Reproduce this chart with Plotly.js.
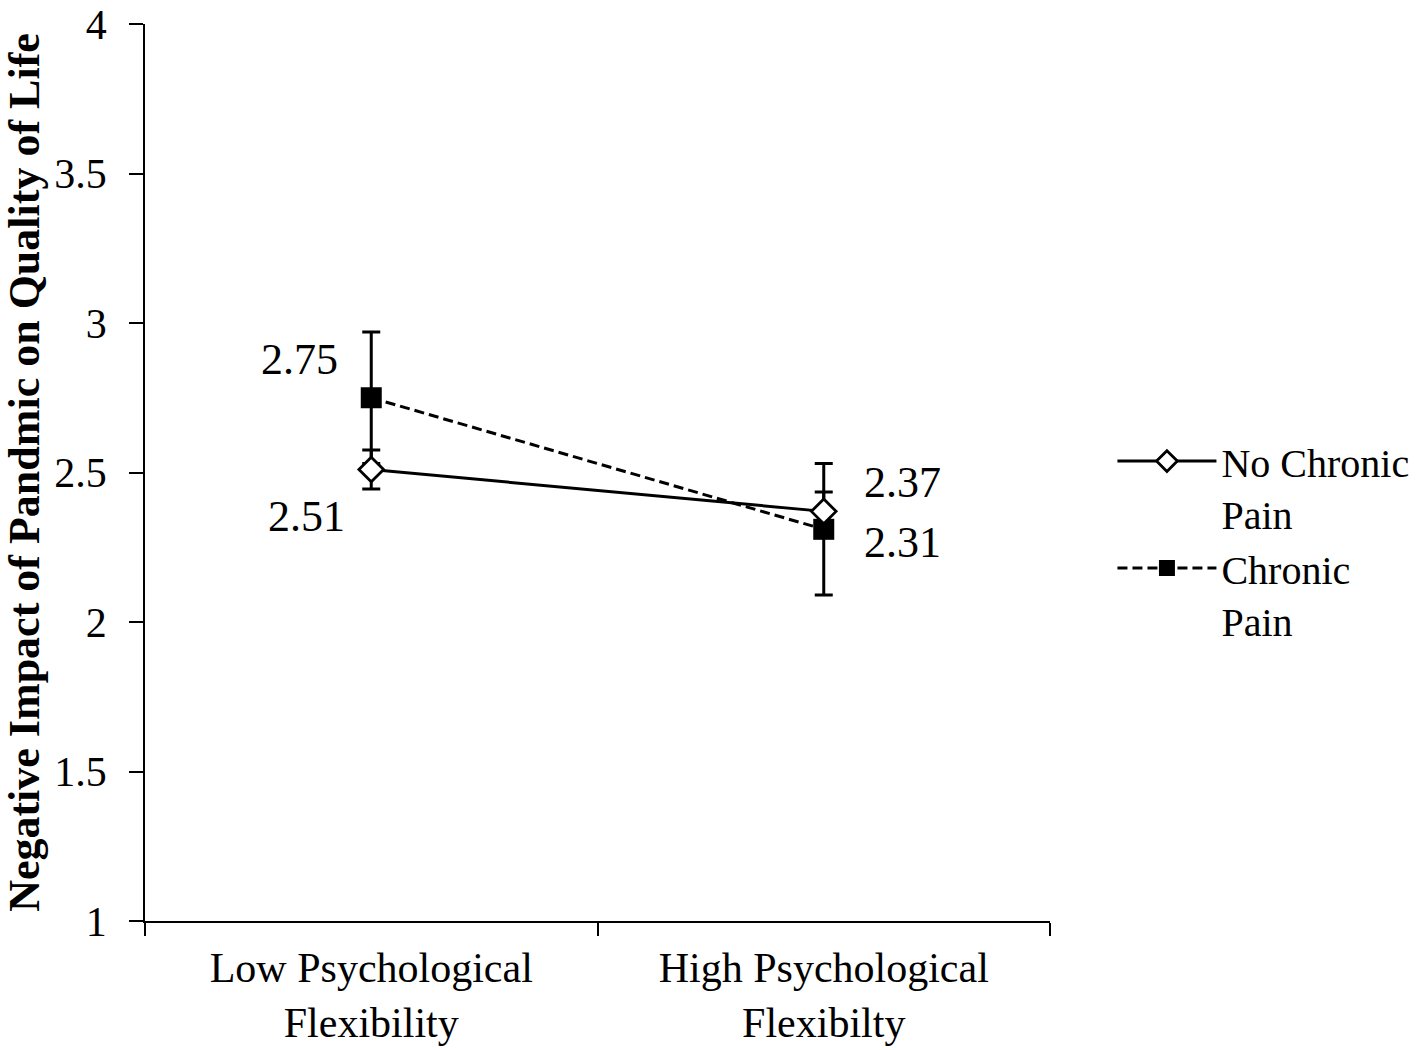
<!DOCTYPE html>
<html>
<head>
<meta charset="utf-8">
<script src="https://cdn.plot.ly/plotly-3.0.1.min.js"></script>
<style>
  html, body { margin: 0; padding: 0; background: #fff; }
  #plot { width: 1421px; height: 1050px; }
</style>
</head>
<body>
<div id="plot"></div>
<script>
    // categories and group means / error half-widths
    let levels = ['Low Psychological<br>Flexibility', 'High Psychological<br>Flexibilty'];
    let noPain = [2.51, 2.37];
    let noPainErr = [0.065, 0.065];
    let pain = [2.75, 2.31];
    let painErr = [0.22, 0.22];
    let yTicks = [1, 1.5, 2, 2.5, 3, 3.5, 4];

    let serif = 'Liberation Serif, Times New Roman, serif';

    let painTrace = {
        type: 'scatter',
        mode: 'lines+markers',
        name: 'Chronic<br>Pain',
        x: levels,
        y: pain,
        legendrank: 2,
        line: {color: '#000', width: 3, dash: '10px,5px'},
        marker: {symbol: 'square', size: 21, color: '#000'},
        error_y: {type: 'data', array: painErr, visible: true, color: '#000', thickness: 3, width: 9}
    };
    let noPainTrace = {
        type: 'scatter',
        mode: 'lines+markers',
        name: 'No Chronic<br>Pain',
        x: levels,
        y: noPain,
        legendrank: 1,
        line: {color: '#000', width: 3},
        marker: {symbol: 'diamond', size: 19, color: '#fff', line: {color: '#000', width: 2.8}},
        error_y: {type: 'data', array: noPainErr, visible: true, color: '#000', thickness: 3, width: 9}
    };

    // value labels next to each point
    let shifts = {
        noPain: [[-65, -47], [79, 29]],
        pain: [[-72, 38], [79, -13]]
    };
    let annotations = [];
    levels.forEach((lv, i) => {
        annotations.push({x: lv, y: noPain[i], text: noPain[i].toFixed(2), showarrow: false,
            xshift: shifts.noPain[i][0], yshift: shifts.noPain[i][1]});
        annotations.push({x: lv, y: pain[i], text: pain[i].toFixed(2), showarrow: false,
            xshift: shifts.pain[i][0], yshift: shifts.pain[i][1]});
    });
    annotations.forEach((a) => { a.font = {family: serif, size: 44, color: '#000'}; });

    let layout = {
        width: 1421,
        height: 1050,
        margin: {l: 145, r: 371, t: 24, b: 129, autoexpand: false},
        paper_bgcolor: '#fff',
        plot_bgcolor: '#fff',
        font: {family: serif, color: '#000', size: 40},
        showlegend: true,
        legend: {
            x: 1.069, y: 0.549, xanchor: 'left', yanchor: 'top',
            valign: 'top', itemwidth: 99, tracegroupgap: 19,
            font: {family: serif, size: 40, color: '#000'}
        },
        xaxis: {
            type: 'category',
            range: [-0.5, 1.5],
            tickson: 'boundaries',
            ticks: 'outside', ticklen: 13, tickwidth: 1.5, tickcolor: '#000',
            ticklabelstandoff: 9,
            showline: true, linecolor: '#000', linewidth: 2,
            showgrid: false, zeroline: false,
            tickfont: {family: serif, size: 42, color: '#000'}
        },
        yaxis: {
            range: [1, 4],
            tickvals: yTicks,
            ticktext: yTicks.map(String),
            ticks: 'outside', ticklen: 14, tickwidth: 1.5, tickcolor: '#000',
            ticklabelstandoff: 14,
            showline: true, linecolor: '#000', linewidth: 1.8,
            showgrid: false, zeroline: false,
            tickfont: {family: serif, size: 42, color: '#000'},
            title: {text: '<b>Negative Impact of Pandmic on Quality of Life</b>', standoff: 12,
                font: {family: serif, size: 44, color: '#000'}}
        },
        annotations: annotations
    };

    Plotly.newPlot('plot', [painTrace, noPainTrace], layout, {displayModeBar: false});
</script>
</body>
</html>
